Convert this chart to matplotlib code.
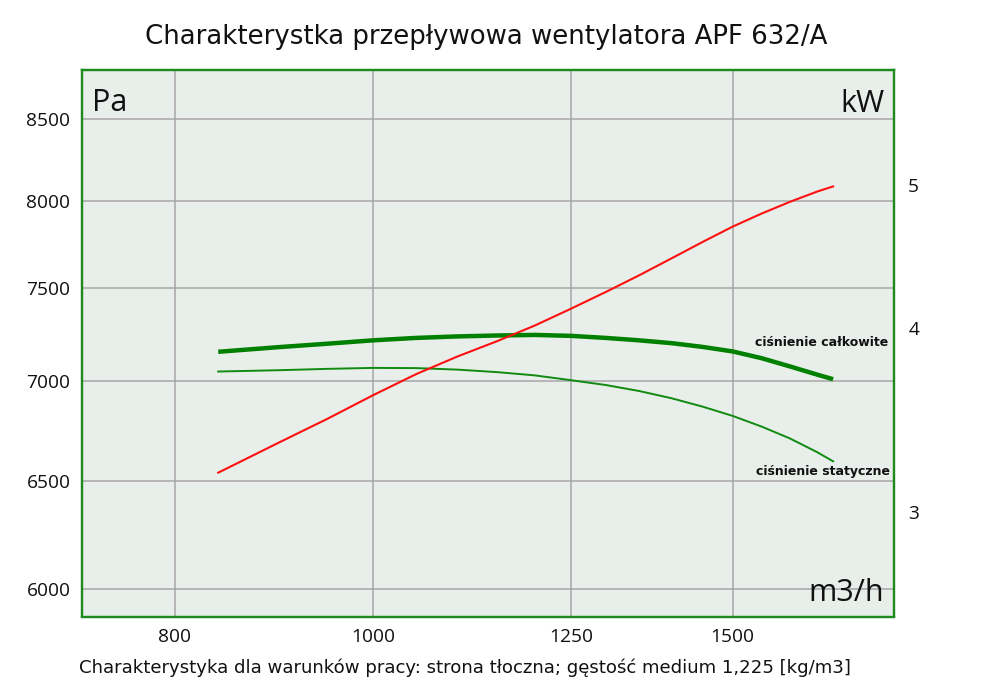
import matplotlib
matplotlib.use("Agg")
import matplotlib.pyplot as plt
from matplotlib.ticker import FixedLocator, FixedFormatter, NullLocator

# ---- data ----
flow = [840, 900, 950, 1000, 1050, 1100, 1150, 1200, 1250, 1300, 1350, 1400,
        1450, 1500, 1550, 1600, 1650, 1680]
p_total = [7155, 7180, 7198, 7216, 7229, 7237, 7242, 7245, 7240, 7229, 7216,
           7201, 7181, 7157, 7121, 7078, 7035, 7011]
p_static = [7051, 7058, 7065, 7070, 7069, 7061, 7048, 7031, 7006, 6981, 6950,
            6913, 6870, 6823, 6769, 6710, 6642, 6597]
power_kw = [3.19, 3.345, 3.47, 3.60, 3.721, 3.825, 3.917, 4.014, 4.121, 4.23,
            4.342, 4.458, 4.574, 4.685, 4.782, 4.870, 4.949, 4.989]

x_ticks = [800, 1000, 1250, 1500]
y_ticks = [6000, 6500, 7000, 7500, 8000, 8500]
y2_ticks = [3, 4, 5]

title = "Charakterystka przepływowa wentylatora APF 632/A"
caption = "Charakterystyka dla warunków pracy: strona tłoczna; gęstość medium 1,225 [kg/m3]"

FONT = "Open Sans"
BG = "#e8eee9"
BORDER = "#1f8a1f"
GRID = "#a6a6a6"

fig = plt.figure(figsize=(9.9, 6.99), dpi=100)
ax = fig.add_axes([81.5 / 990, 1 - 616.5 / 699, (894.3 - 81.5) / 990, (616.5 - 69.6) / 699])
ax.set_facecolor(BG)
ax.set_xscale("log")
ax.set_yscale("log")
ax.set_xlim(720, 1800)
ax.set_ylim(5880, 8820)

ax.xaxis.set_major_locator(FixedLocator(x_ticks))
ax.xaxis.set_major_formatter(FixedFormatter([str(v) for v in x_ticks]))
ax.xaxis.set_minor_locator(NullLocator())
ax.yaxis.set_major_locator(FixedLocator(y_ticks))
ax.yaxis.set_major_formatter(FixedFormatter([str(v) for v in y_ticks]))
ax.yaxis.set_minor_locator(NullLocator())
ax.grid(True, color=GRID, linewidth=1.1, zorder=0)
ax.set_axisbelow(True)
ax.tick_params(axis="both", length=0, labelsize=13.8, colors="#111111")
ax.tick_params(axis="x", pad=8)
ax.tick_params(axis="y", pad=8)
for lab in ax.get_xticklabels() + ax.get_yticklabels():
    lab.set_fontfamily(FONT)

ax2 = ax.twinx()
ax2.set_yscale("log")
ax2.set_ylim(2.548, 5.988)
ax2.yaxis.set_major_locator(FixedLocator(y2_ticks))
ax2.yaxis.set_major_formatter(FixedFormatter([str(v) for v in y2_ticks]))
ax2.yaxis.set_minor_locator(NullLocator())
ax2.tick_params(axis="y", length=0, labelsize=13.8, pad=10, colors="#111111")
for lab in ax2.get_yticklabels():
    lab.set_fontfamily(FONT)

for a in (ax, ax2):
    for s in a.spines.values():
        s.set_color(BORDER)
        s.set_linewidth(1.6)

ax.plot(flow, p_total, color="#008000", linewidth=3.2, solid_capstyle="butt",
        solid_joinstyle="round", zorder=3)
ax.plot(flow, p_static, color="#108a10", linewidth=1.4, solid_joinstyle="round", zorder=3)
ax2.plot(flow, power_kw, color="#ff1010", linewidth=1.5, solid_joinstyle="round", zorder=3)

ax.text(0.0129, 0.925, "Pa", transform=ax.transAxes, fontsize=22, family=FONT,
        ha="left", va="baseline", color="#111111")
ax.text(0.9885, 0.923, "kW", transform=ax.transAxes, fontsize=22, family=FONT,
        ha="right", va="baseline", color="#111111")
ax.text(0.9877, 0.0289, "m3/h", transform=ax.transAxes, fontsize=22, family=FONT,
        ha="right", va="baseline", color="#111111")

ax.text(0.9929, 0.5014, "ciśnienie całkowite", transform=ax.transAxes, fontsize=9.0,
        family="DejaVu Sans", fontweight="bold", ha="right", va="center", color="#111111")
ax.text(0.9941, 0.2648, "ciśnienie statyczne", transform=ax.transAxes, fontsize=9.0,
        family="DejaVu Sans", fontweight="bold", ha="right", va="center", color="#111111")

fig.text(486 / 990, 1 - 37 / 699, title, fontsize=18.75, family="DejaVu Sans",
         ha="center", va="center", color="#111111")
fig.text(79 / 990, 1 - 668 / 699, caption, fontsize=13.05, family="DejaVu Sans",
         ha="left", va="center", color="#111111")

fig.savefig("out.png", dpi=100, facecolor="white")
